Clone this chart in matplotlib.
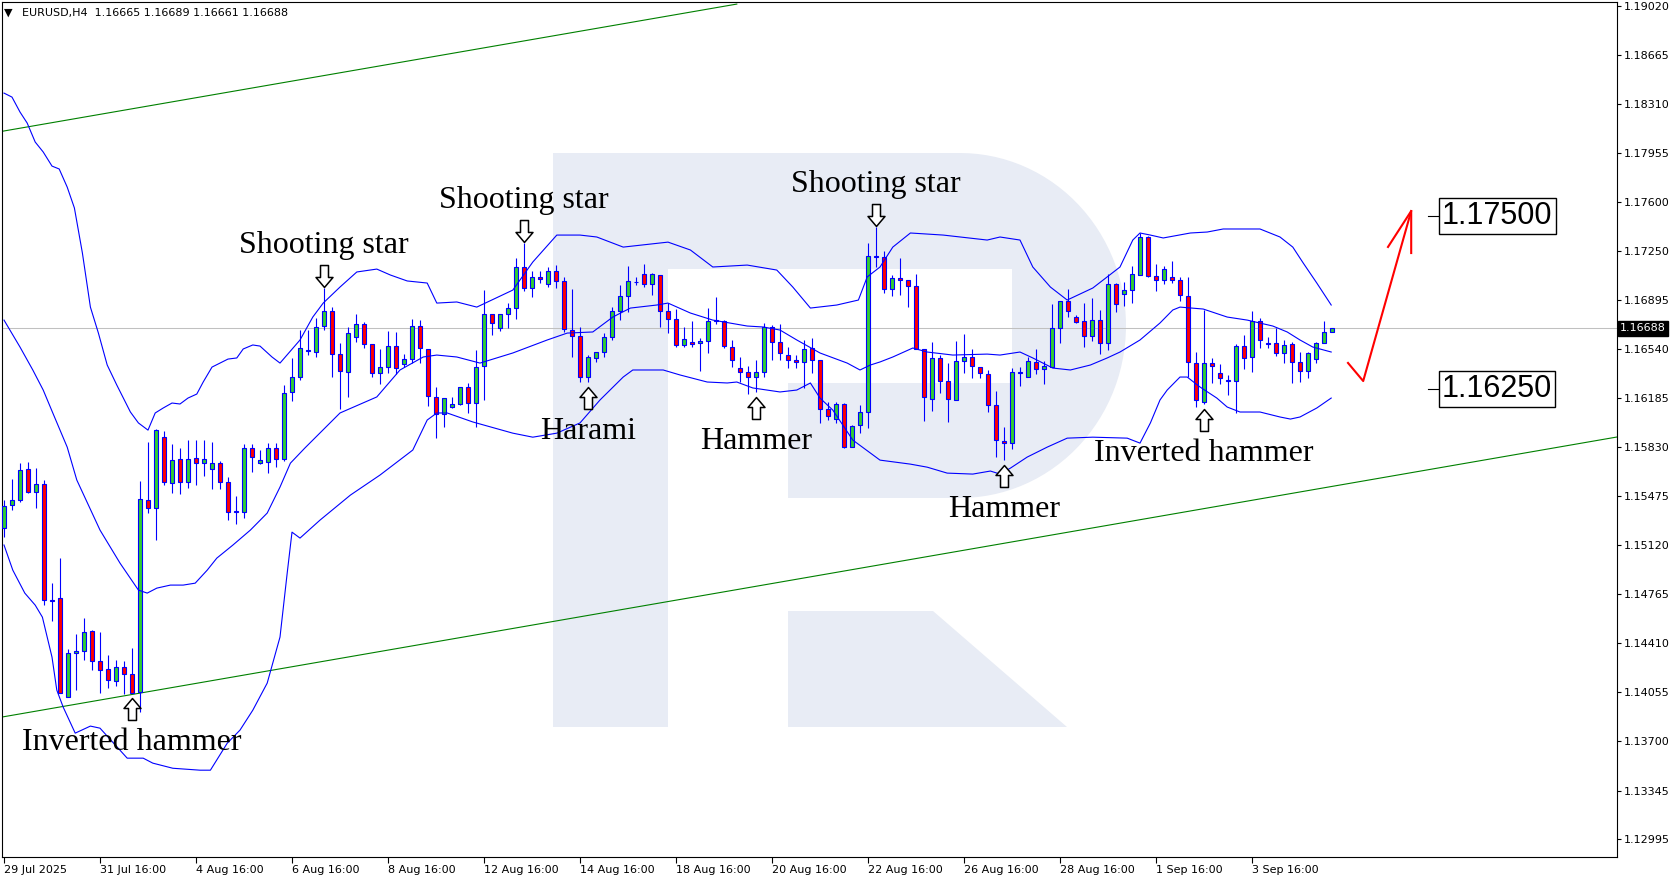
import matplotlib
matplotlib.use("Agg")
import matplotlib.pyplot as plt
from matplotlib.patches import Polygon
from matplotlib.path import Path
from matplotlib import transforms
import numpy as np

# ---------------- data (EURUSD H4) ----------------
opens = [1.15243, 1.15410, 1.15446, 1.15670, 1.15504, 1.15562, 1.14722, 1.14737, 1.14020, 1.14339,
         1.14354, 1.14498, 1.14281, 1.14223, 1.14136, 1.14237, 1.14187, 1.14056, 1.15446, 1.15388,
         1.15901, 1.15569, 1.15742, 1.15577, 1.15750, 1.15713, 1.15670, 1.15713, 1.15577, 1.15366,
         1.15359, 1.15822, 1.15713, 1.15721, 1.15822, 1.15742, 1.16228, 1.16336, 1.16531, 1.16517,
         1.16705, 1.16813, 1.16502, 1.16372, 1.16625, 1.16720, 1.16575, 1.16365, 1.16408, 1.16560,
         1.16430, 1.16466, 1.16705, 1.16539, 1.16192, 1.16069, 1.16119, 1.16141, 1.16264, 1.16148,
         1.16416, 1.16792, 1.16691, 1.16792, 1.16835, 1.17132, 1.16980, 1.17060, 1.17009, 1.17103,
         1.17031, 1.16676, 1.16633, 1.16336, 1.16474, 1.16517, 1.16625, 1.16813, 1.16922, 1.17020,
         1.17081, 1.17009, 1.17074, 1.16813, 1.16756, 1.16568, 1.16589, 1.16582, 1.16597, 1.16741,
         1.16741, 1.16553, 1.16401, 1.16372, 1.16336, 1.16372, 1.16698, 1.16589, 1.16495, 1.16459,
         1.16445, 1.16546, 1.16459, 1.16105, 1.16032, 1.16141, 1.15829, 1.15988, 1.16083, 1.17211,
         1.17204, 1.16973, 1.17052, 1.17038, 1.16994, 1.16539, 1.16177, 1.16474, 1.16307, 1.16170,
         1.16452, 1.16481, 1.16408, 1.16358, 1.16134, 1.15873, 1.15858, 1.16372, 1.16336, 1.16445,
         1.16394, 1.16408, 1.16691, 1.16886, 1.16770, 1.16741, 1.16633, 1.16748, 1.16582, 1.17009,
         1.16936, 1.16965, 1.17074, 1.17349, 1.17067, 1.17038, 1.17060, 1.17038, 1.16922, 1.16437,
         1.16155, 1.16437, 1.16365, 1.16314, 1.16307, 1.16560, 1.16481, 1.16741, 1.16582, 1.16582,
         1.16510, 1.16575, 1.16445, 1.16379, 1.16466, 1.16582, 1.16665]
highs = [1.15446, 1.15598, 1.15713, 1.15721, 1.15677, 1.15591, 1.14845, 1.15026, 1.14368, 1.14476,
         1.14592, 1.14505, 1.14491, 1.14325, 1.14288, 1.14281, 1.14375, 1.15584, 1.15866, 1.15960,
         1.15945, 1.15851, 1.15822, 1.15880, 1.15880, 1.15880, 1.15866, 1.15728, 1.15613, 1.15475,
         1.15851, 1.15851, 1.15808, 1.15858, 1.15858, 1.16278, 1.16474, 1.16676, 1.16676, 1.16763,
         1.16980, 1.16842, 1.16582, 1.16698, 1.16792, 1.16734, 1.16575, 1.16539, 1.16669, 1.16662,
         1.16502, 1.16756, 1.16748, 1.16539, 1.16264, 1.16184, 1.16192, 1.16264, 1.16293, 1.16531,
         1.16965, 1.16792, 1.16792, 1.16871, 1.17197, 1.17305, 1.17103, 1.17103, 1.17132, 1.17146,
         1.17060, 1.16973, 1.16698, 1.16495, 1.16517, 1.16654, 1.16842, 1.17002, 1.17139, 1.17060,
         1.17154, 1.17088, 1.17074, 1.16871, 1.16828, 1.16698, 1.16741, 1.16618, 1.16835, 1.16915,
         1.16748, 1.16604, 1.16481, 1.16416, 1.16459, 1.16727, 1.16712, 1.16720, 1.16553, 1.16495,
         1.16604, 1.16618, 1.16459, 1.16155, 1.16155, 1.16148, 1.15988, 1.16134, 1.17305, 1.17421,
         1.17247, 1.17074, 1.17197, 1.17038, 1.17081, 1.16539, 1.16589, 1.16495, 1.16437, 1.16597,
         1.16647, 1.16539, 1.16408, 1.16387, 1.16235, 1.15974, 1.16401, 1.16408, 1.16481, 1.16539,
         1.16452, 1.16864, 1.16886, 1.16973, 1.16784, 1.16871, 1.16907, 1.16821, 1.17081, 1.17016,
         1.17023, 1.17139, 1.17378, 1.17356, 1.17154, 1.17139, 1.17175, 1.17060, 1.17060, 1.16517,
         1.16821, 1.16474, 1.16430, 1.16351, 1.16575, 1.16640, 1.16813, 1.16763, 1.16625, 1.16691,
         1.16604, 1.16589, 1.16517, 1.16517, 1.16589, 1.16741, 1.16689]
lows = [1.15178, 1.15374, 1.15432, 1.15496, 1.15388, 1.14686, 1.14571, 1.14049, 1.14020, 1.14071,
        1.14288, 1.14216, 1.14049, 1.14085, 1.14100, 1.14042, 1.14049, 1.13912, 1.15352, 1.15157,
        1.15555, 1.15496, 1.15489, 1.15533, 1.15555, 1.15620, 1.15526, 1.15526, 1.15301, 1.15272,
        1.15316, 1.15649, 1.15706, 1.15641, 1.15684, 1.15728, 1.16163, 1.16314, 1.16495, 1.16481,
        1.16676, 1.16336, 1.16105, 1.16192, 1.16589, 1.16546, 1.16336, 1.16285, 1.16365, 1.16358,
        1.16408, 1.16437, 1.16437, 1.16127, 1.15894, 1.15974, 1.16112, 1.16134, 1.16076, 1.15974,
        1.16170, 1.16640, 1.16669, 1.16691, 1.16756, 1.16958, 1.16915, 1.17016, 1.16987, 1.16980,
        1.16662, 1.16481, 1.16300, 1.16300, 1.16445, 1.16481, 1.16604, 1.16748, 1.16806, 1.17002,
        1.16987, 1.16929, 1.16698, 1.16654, 1.16553, 1.16553, 1.16553, 1.16379, 1.16510, 1.16720,
        1.16546, 1.16408, 1.16300, 1.16213, 1.16228, 1.16336, 1.16459, 1.16459, 1.16401, 1.16401,
        1.16257, 1.16365, 1.16004, 1.16025, 1.16004, 1.15822, 1.15829, 1.15930, 1.15967, 1.17132,
        1.16944, 1.16922, 1.16929, 1.16842, 1.16539, 1.16018, 1.16090, 1.16220, 1.16011, 1.16170,
        1.16365, 1.16329, 1.16329, 1.16083, 1.15757, 1.15735, 1.15815, 1.16271, 1.16336, 1.16358,
        1.16285, 1.16408, 1.16582, 1.16770, 1.16727, 1.16553, 1.16597, 1.16502, 1.16531, 1.16806,
        1.16850, 1.16871, 1.17074, 1.17060, 1.16958, 1.17009, 1.17016, 1.16886, 1.16336, 1.16119,
        1.16141, 1.16293, 1.16285, 1.16206, 1.16076, 1.16394, 1.16372, 1.16546, 1.16546, 1.16488,
        1.16437, 1.16293, 1.16300, 1.16329, 1.16437, 1.16582, 1.16661]
closes = [1.15403, 1.15446, 1.15663, 1.15504, 1.15562, 1.14722, 1.14715, 1.14049, 1.14339, 1.14354,
          1.14491, 1.14281, 1.14216, 1.14143, 1.14237, 1.14187, 1.14049, 1.15453, 1.15388, 1.15952,
          1.15577, 1.15735, 1.15577, 1.15742, 1.15713, 1.15742, 1.15713, 1.15577, 1.15359, 1.15359,
          1.15822, 1.15757, 1.15735, 1.15822, 1.15742, 1.16220, 1.16336, 1.16546, 1.16524, 1.16698,
          1.16813, 1.16502, 1.16379, 1.16654, 1.16720, 1.16575, 1.16365, 1.16408, 1.16560, 1.16401,
          1.16466, 1.16705, 1.16546, 1.16199, 1.16069, 1.16184, 1.16141, 1.16264, 1.16148, 1.16408,
          1.16792, 1.16727, 1.16792, 1.16835, 1.17132, 1.16980, 1.17060, 1.17045, 1.17103, 1.17031,
          1.16684, 1.16633, 1.16336, 1.16481, 1.16517, 1.16625, 1.16813, 1.16922, 1.17031, 1.17027,
          1.17009, 1.17081, 1.16813, 1.16756, 1.16568, 1.16611, 1.16575, 1.16597, 1.16741, 1.16748,
          1.16560, 1.16459, 1.16372, 1.16336, 1.16372, 1.16698, 1.16589, 1.16510, 1.16459, 1.16445,
          1.16539, 1.16459, 1.16105, 1.16054, 1.16141, 1.15829, 1.15981, 1.16083, 1.17211, 1.17204,
          1.16973, 1.17052, 1.17038, 1.16994, 1.16539, 1.16192, 1.16474, 1.16307, 1.16177, 1.16452,
          1.16481, 1.16416, 1.16365, 1.16134, 1.15880, 1.15858, 1.16372, 1.16365, 1.16452, 1.16394,
          1.16416, 1.16691, 1.16886, 1.16813, 1.16734, 1.16633, 1.16748, 1.16582, 1.17009, 1.16864,
          1.16965, 1.17081, 1.17349, 1.17067, 1.17038, 1.17117, 1.17038, 1.16929, 1.16445, 1.16170,
          1.16437, 1.16416, 1.16329, 1.16307, 1.16560, 1.16474, 1.16741, 1.16604, 1.16575, 1.16510,
          1.16568, 1.16445, 1.16379, 1.16510, 1.16582, 1.16662, 1.16688]

# Bollinger bands (bar position, price)
upper_x = [0.0, 1.0, 2.0, 2.9, 3.9, 4.9, 6.0, 6.9, 7.9, 8.8, 9.8, 10.8, 11.8, 12.9, 14.1, 15.8, 16.8,
           18.0, 18.9, 19.9, 21.0, 22.0, 23.0, 24.1, 24.9, 26.0, 27.0, 28.0, 29.1, 29.9, 31.1, 32.0,
           33.5, 34.5, 37.0, 38.6, 39.9, 42.0, 44.1, 46.6, 48.3, 50.4, 52.9, 54.1, 56.6, 59.1, 63.6,
           66.1, 69.1, 72.0, 74.1, 77.4, 83.0, 85.8, 88.6, 92.9, 96.6, 98.6, 100.8, 104.1, 106.8,
           107.9, 109.5, 111.1, 113.3, 117.4, 122.9, 124.5, 127.0, 128.6, 130.8, 132.9, 136.1, 139.5,
           141.1, 142.0, 143.3, 144.9, 148.3, 150.4, 152.4, 157.0, 159.5, 161.1, 162.4, 164.1, 165.9]
upper_y = [1.18390, 1.18361, 1.18253, 1.18173, 1.18036, 1.17964, 1.17862, 1.17841, 1.17710, 1.17559,
           1.17233, 1.16842, 1.16654, 1.16423, 1.16278, 1.16083, 1.16004, 1.15952, 1.16076, 1.16112,
           1.16148, 1.16141, 1.16184, 1.16213, 1.16300, 1.16408, 1.16437, 1.16466, 1.16474, 1.16539,
           1.16568, 1.16560, 1.16481, 1.16437, 1.16604, 1.16770, 1.16871, 1.16987, 1.17096, 1.17117,
           1.17074, 1.17031, 1.17016, 1.16871, 1.16879, 1.16842, 1.16965, 1.17168, 1.17363, 1.17363,
           1.17349, 1.17276, 1.17312, 1.17255, 1.17132, 1.17146, 1.17110, 1.16987, 1.16835, 1.16857,
           1.16893, 1.17060, 1.17132, 1.17276, 1.17378, 1.17363, 1.17327, 1.17349, 1.17327, 1.17132,
           1.16987, 1.16893, 1.16980, 1.17132, 1.17327, 1.17378, 1.17363, 1.17342, 1.17378, 1.17385,
           1.17407, 1.17407, 1.17349, 1.17276, 1.17161, 1.17016, 1.16857]
mid_x = [0.0, 2.0, 3.6, 4.9, 6.1, 7.9, 9.1, 12.0, 14.5, 16.8, 17.9, 19.1, 20.8, 22.4, 23.9, 25.4,
         26.6, 28.6, 30.8, 32.9, 34.5, 35.8, 37.6, 42.0, 46.6, 49.5, 52.4, 54.1, 56.6, 59.5, 63.6,
         67.9, 70.4, 73.6, 76.1, 78.3, 81.6, 83.0, 85.8, 88.6, 92.9, 94.9, 97.0, 99.1, 102.0, 105.4,
         107.0, 108.3, 109.5, 111.1, 113.6, 115.4, 118.6, 122.9, 124.5, 127.0, 128.6, 131.1, 133.3,
         135.8, 137.9, 139.5, 142.0, 144.5, 146.1, 147.0, 149.9, 152.9, 155.4, 158.6, 160.4, 162.0,
         163.6, 165.9]
mid_y = [1.16748, 1.16553, 1.16387, 1.16242, 1.16076, 1.15829, 1.15591, 1.15229, 1.14990, 1.14795,
         1.14773, 1.14809, 1.14831, 1.14831, 1.14845, 1.14939, 1.15026, 1.15120, 1.15229, 1.15352,
         1.15540, 1.15713, 1.15822, 1.16076, 1.16192, 1.16387, 1.16481, 1.16495, 1.16481, 1.16437,
         1.16510, 1.16604, 1.16654, 1.16662, 1.16770, 1.16835, 1.16857, 1.16871, 1.16799, 1.16748,
         1.16705, 1.16698, 1.16676, 1.16604, 1.16510, 1.16437, 1.16387, 1.16423, 1.16445, 1.16481,
         1.16546, 1.16517, 1.16495, 1.16502, 1.16495, 1.16517, 1.16474, 1.16401, 1.16387, 1.16423,
         1.16474, 1.16517, 1.16604, 1.16727, 1.16821, 1.16842, 1.16828, 1.16770, 1.16748, 1.16705,
         1.16662, 1.16604, 1.16553, 1.16517]
low_x = [0.0, 1.1, 2.6, 3.9, 4.8, 6.0, 6.6, 7.4, 8.9, 10.8, 12.0, 15.4, 17.4, 18.6, 21.1, 24.5,
         25.8, 27.9, 29.5, 31.1, 32.9, 34.5, 35.4, 36.0, 37.0, 39.5, 43.3, 47.0, 51.1, 52.9, 54.1,
         55.4, 58.6, 63.6, 66.1, 69.1, 72.0, 74.5, 77.4, 78.6, 82.4, 84.5, 87.9, 90.4, 91.6, 93.6,
         97.0, 99.1, 100.8, 102.0, 103.6, 106.1, 109.5, 113.3, 115.4, 117.9, 121.1, 123.3, 124.5,
         125.8, 127.9, 130.4, 132.9, 136.1, 140.4, 142.0, 143.3, 144.5, 145.4, 147.0, 147.9, 149.5,
         151.6, 152.9, 154.5, 157.0, 159.5, 160.8, 162.0, 164.1, 165.9]
low_y = [1.15121, 1.14939, 1.14773, 1.14686, 1.14599, 1.14310, 1.14071, 1.13948, 1.13760, 1.13811,
         1.13796, 1.13579, 1.13579, 1.13543, 1.13506, 1.13492, 1.13492, 1.13687, 1.13782, 1.13926,
         1.14122, 1.14455, 1.14918, 1.15214, 1.15171, 1.15301, 1.15482, 1.15627, 1.15808, 1.16025,
         1.16076, 1.16076, 1.16011, 1.15930, 1.15901, 1.15930, 1.16004, 1.16170, 1.16336, 1.16387,
         1.16387, 1.16351, 1.16300, 1.16293, 1.16300, 1.16257, 1.16228, 1.16242, 1.16293, 1.16184,
         1.16097, 1.15880, 1.15735, 1.15706, 1.15684, 1.15641, 1.15634, 1.15656, 1.15634, 1.15677,
         1.15757, 1.15829, 1.15894, 1.15901, 1.15894, 1.15858, 1.16004, 1.16170, 1.16242, 1.16336,
         1.16336, 1.16264, 1.16184, 1.16119, 1.16083, 1.16083, 1.16047, 1.16032, 1.16047, 1.16112,
         1.16184]

# channel lines (bar position, price)
channel_top_x = [-0.1, 91.6]
channel_top_y = [1.18115, 1.19034]
channel_bot_x = [-0.1, 201.6]
channel_bot_y = [1.13878, 1.15902]

tick_bars = [0, 12, 24, 36, 48, 60, 72, 84, 96, 108, 120, 132, 144, 156]
tick_labels = ["29 Jul 2025", "31 Jul 16:00", "4 Aug 16:00", "6 Aug 16:00", "8 Aug 16:00",
               "12 Aug 16:00", "14 Aug 16:00", "18 Aug 16:00", "20 Aug 16:00", "22 Aug 16:00",
               "26 Aug 16:00", "28 Aug 16:00", "1 Sep 16:00", "3 Sep 16:00"]
price_ticks = [1.19020, 1.18665, 1.18310, 1.17955, 1.17600, 1.17250, 1.16895, 1.16540, 1.16185,
               1.15830, 1.15475, 1.15120, 1.14765, 1.14410, 1.14055, 1.13700, 1.13345, 1.12995]

patterns = [("Inverted hammer", 16, "up"), ("Shooting star", 40, "down"),
            ("Shooting star", 65, "down"), ("Harami", 73, "up"), ("Hammer", 94, "up"),
            ("Shooting star", 109, "down"), ("Hammer", 125, "up"), ("Inverted hammer", 150, "up")]

levels = [1.17500, 1.16250]
forecast_x = [168.0, 169.9, 175.9]
forecast_y = [1.16438, 1.16307, 1.17537]
forecast_head_x = [173.0, 175.9, 175.9]
forecast_head_y = [1.17277, 1.17537, 1.17233]
last_price = 1.16688
header = "EURUSD,H4  1.16665 1.16689 1.16661 1.16688"

# ---------------- figure ----------------
W, H = 1681, 882
fig = plt.figure(figsize=(W / 100, H / 100), dpi=100)
fig.patch.set_facecolor("white")
ax = fig.add_axes([2 / W, 25 / H, 1615 / W, 855 / H])
ax.set_xlim(-0.25, 201.625)
ax.set_ylim(1.12864, 1.19049)


def fp(pts):
    return [(x / W, 1 - y / H) for x, y in pts]


# watermark "R"
wm = "#e8ecf5"
t = np.linspace(np.pi / 2, -np.pi / 2, 60)
arc = [(960 + 166 * np.cos(a), 325.5 - 172.5 * np.sin(a)) for a in t]
r_body = [(553, 153)] + arc + [(788, 498), (788, 383), (1012, 383), (1012, 269),
                               (668, 269), (668, 727), (553, 727)]
ax.add_patch(Polygon(fp(r_body), closed=True, transform=fig.transFigure, fc=wm, ec="none", zorder=0))
ax.add_patch(Polygon(fp([(788, 611), (933, 611), (1067, 727), (788, 727)]), closed=True,
                     transform=fig.transFigure, fc=wm, ec="none", zorder=0))

# current price line
ax.axhline(last_price, color="#c0c0c0", lw=0.75, zorder=1)

# channel
ax.plot(channel_top_x, channel_top_y, color="#008000", lw=0.8, zorder=2)
ax.plot(channel_bot_x, channel_bot_y, color="#008000", lw=0.8, zorder=2)

# candles
x = np.arange(len(opens))
o, h, l, c = map(np.array, (opens, highs, lows, closes))
bull = c >= o
ax.vlines(x, l, h, color="#0000ff", lw=0.8, zorder=3)
body_lo = np.minimum(o, c)
body_h = np.maximum(np.abs(c - o), 0.00003)
ax.bar(x, body_h, bottom=body_lo, width=0.58,
       color=np.where(bull, "#32cd32", "#ff0000"), edgecolor="#0000ff", linewidth=0.8, zorder=4)

# bands
for bx, by in ((upper_x, upper_y), (mid_x, mid_y), (low_x, low_y)):
    ax.plot(bx, by, color="#0000ff", lw=0.8, zorder=5)

# pattern arrows + labels
up_v = [(0, 11), (8.5, 1), (4, 1), (4, -11), (-4, -11), (-4, 1), (-8.5, 1), (0, 11)]
codes = [Path.MOVETO] + [Path.LINETO] * 6 + [Path.CLOSEPOLY]
arrow_up = Path(up_v, codes)
arrow_down = Path([(vx, -vy) for vx, vy in up_v], codes)
for name, i, side in patterns:
    if side == "up":
        base, sgn, gap, txt_off = lows[i], -1, 5, 57
    else:
        base, sgn, gap, txt_off = highs[i], 1, 1, 35
    tr = transforms.offset_copy(ax.transData, fig=fig, x=0, y=sgn * (gap + 11), units="dots")
    ax.plot([i], [base], marker=arrow_up if side == "up" else arrow_down, ms=15.8,
            mfc="white", mec="black", mew=1.1, transform=tr, zorder=6, clip_on=False)
    ax.annotate(name, xy=(i, base), xytext=(0, sgn * txt_off), textcoords="offset pixels",
                ha="center", va="baseline", fontsize=23, family="Liberation Serif",
                color="black", zorder=7)

# target levels
for lv in levels:
    ax.plot([178.0, 179.25], [lv, lv], color="black", lw=0.8, zorder=6)
    ax.annotate(f"{lv:.5f}", xy=(179.25, lv), xytext=(4, 0), textcoords="offset pixels",
                ha="left", va="center", fontsize=22, family="Liberation Sans", zorder=7,
                bbox=dict(boxstyle="square,pad=0.1", fc="white", ec="black", lw=1.0))

# forecast arrow
ax.plot(forecast_x, forecast_y, color="red", lw=1.5, zorder=6)
ax.plot(forecast_head_x, forecast_head_y, color="red", lw=1.5, zorder=6)

# axes styling
for sp in ax.spines.values():
    sp.set_linewidth(0.8)
    sp.set_color("black")
ax.yaxis.tick_right()
ax.set_yticks(price_ticks)
ax.set_yticklabels([f"{p:.5f}" for p in price_ticks])
ax.tick_params(axis="y", direction="out", length=3, width=0.8, pad=2, labelsize=8)
ax.set_xticks(tick_bars)
ax.set_xticklabels(tick_labels)
ax.tick_params(axis="x", direction="out", length=4, width=0.8, pad=2, labelsize=8)
for lbl in ax.get_xticklabels():
    lbl.set_ha("left")

ax.annotate(f"{last_price:.5f}", xy=(1, last_price), xycoords=("axes fraction", "data"),
            xytext=(3, 0), textcoords="offset pixels", ha="left", va="center", color="white",
            fontsize=8, annotation_clip=False,
            bbox=dict(boxstyle="square,pad=0.2", fc="black", ec="black"))

fig.text(4 / W, 1 - 13 / H, "\u25bc", fontsize=8, va="center", ha="left")
fig.text(22 / W, 1 - 13 / H, header, fontsize=8, va="center", ha="left")

fig.savefig("out.png", dpi=100)
